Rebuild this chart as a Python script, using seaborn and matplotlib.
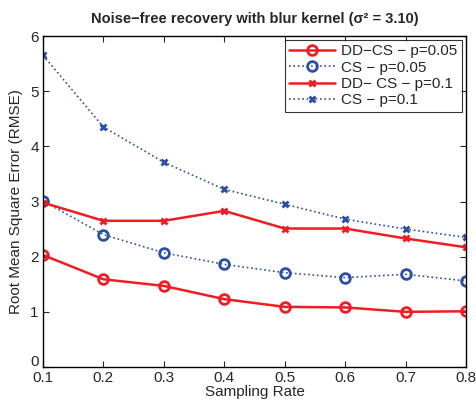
import matplotlib
matplotlib.use("Agg")
import matplotlib.pyplot as plt
import matplotlib.transforms as mtransforms
import seaborn as sns
import pandas as pd

sampling_rate = [0.1, 0.2, 0.3, 0.4, 0.5, 0.6, 0.7, 0.8]
ddcs_p005 = [2.03, 1.59, 1.47, 1.23, 1.09, 1.08, 1.00, 1.01]
cs_p005 = [3.01, 2.40, 2.07, 1.86, 1.71, 1.62, 1.68, 1.56]
ddcs_p01 = [2.98, 2.65, 2.65, 2.83, 2.51, 2.51, 2.33, 2.17]
cs_p01 = [5.65, 4.35, 3.71, 3.22, 2.95, 2.68, 2.50, 2.35]
labels = ["DD\u2212CS \u2212 p=0.05", "CS \u2212 p=0.05", "DD\u2212 CS \u2212 p=0.1", "CS \u2212 p=0.1"]
x_ticks = [0.1, 0.2, 0.3, 0.4, 0.5, 0.6, 0.7, 0.8]
y_ticks = [0, 1, 2, 3, 4, 5, 6]

sns.set_style("ticks")
plt.rcParams['font.family'] = ['Liberation Sans', 'DejaVu Sans']

fig = plt.figure(figsize=(4.77, 4.07), dpi=100)
ax = fig.add_axes([43/477, 1-367/407, (466-43)/477, (367-36)/407])

red = '#ee1d23'
blue = '#2c4ea3'
styles = [
    (ddcs_p005, red, 'o', '-', 1.8, 7),
    (cs_p005, blue, 'o', ':', 1.2, 7),
    (ddcs_p01, red, 'x', '-', 1.8, 5),
    (cs_p01, blue, 'x', ':', 1.2, 5),
]
for (vals, c, m, ls, lw, ms), lab in zip(styles, labels):
    df = pd.DataFrame({'x': sampling_rate, 'y': vals})
    sns.lineplot(data=df, x='x', y='y', ax=ax, color=c, marker=m, linestyle=ls,
                 linewidth=lw, markersize=ms, markerfacecolor='none' if m == 'o' else c,
                 markeredgecolor=c, markeredgewidth=2, label=lab)

ax.set_xlim(0.1, 0.8)
ax.set_ylim(0, 6)
ax.set_xticks(x_ticks)
ax.set_xticklabels([f"{v:.1f}" for v in x_ticks])
ax.set_yticks(y_ticks)
ax.tick_params(direction='in', top=True, right=True, labelsize=11, length=4, width=0.8, pad=3)
for s in ax.spines.values():
    s.set_linewidth(1.0)
    s.set_color('black')
ax.set_xlabel("Sampling Rate", fontsize=11, labelpad=0)
ax.set_ylabel("Root Mean Square Error (RMSE)", fontsize=11, labelpad=5)
ax.set_title("Noise\u2212free recovery with blur kernel (\u03c3\u00b2 = 3.10)", fontsize=10.5, fontweight='bold', pad=9)

# nudge the "0" label up slightly so it doesn't collide with "0.1"
lbl0 = ax.get_yticklabels()[0]
lbl0.set_transform(lbl0.get_transform() + mtransforms.ScaledTranslation(0, 6/100, fig.dpi_scale_trans))

leg = ax.legend(loc='upper right', fontsize=11, frameon=True, fancybox=False,
                edgecolor='black', borderpad=0.3, labelspacing=0.15, handlelength=3.0,
                handletextpad=0.4, borderaxespad=0.25)
leg.get_frame().set_linewidth(0.8)

fig.savefig("out.png", dpi=100)
